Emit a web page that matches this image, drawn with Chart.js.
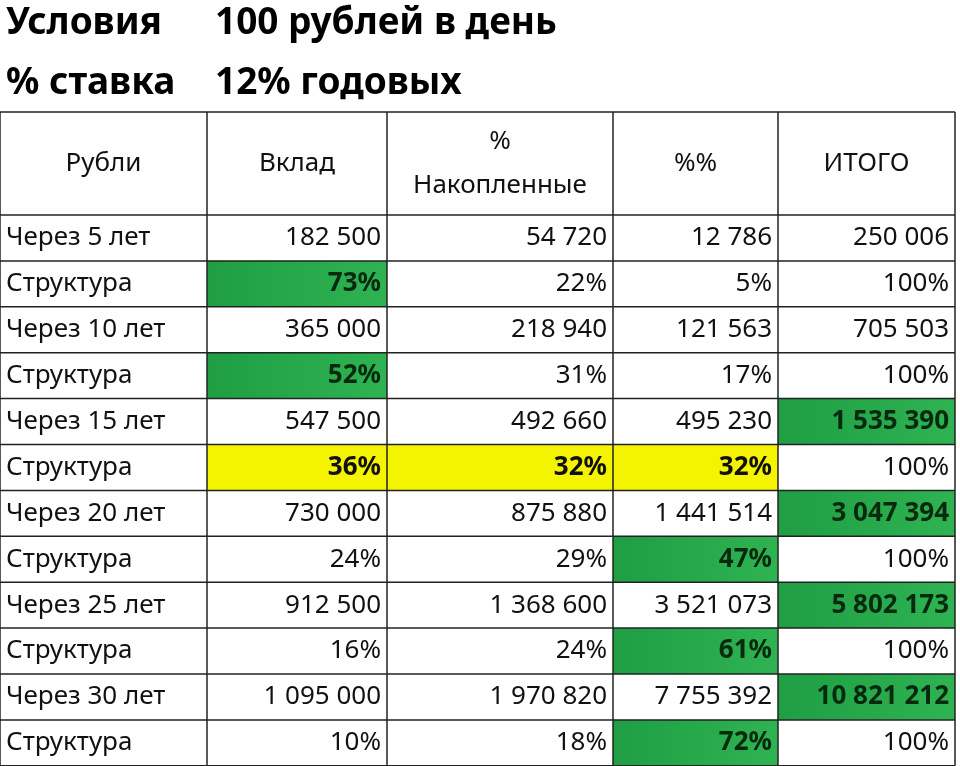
<!DOCTYPE html>
<html>
<head>
<meta charset="utf-8">
<script src="https://cdn.jsdelivr.net/npm/chart.js@4"></script>
<style>
  html, body { margin: 0; padding: 0; background: #fff; }
  #wrap { width: 960px; height: 766px; }
</style>
</head>
<body>
<div id="wrap"><canvas id="c"></canvas></div>
<script>
// Table data
const titleLabels = ["Условия", "% ставка"]
const titleValues = ["100 рублей в день", "12% годовых"]
const headers = ["Рубли", "Вклад", "%\nНакопленные", "%%", "ИТОГО"]
const rowLabels = [
  "Через 5 лет", "Структура", "Через 10 лет", "Структура", "Через 15 лет", "Структура",
  "Через 20 лет", "Структура", "Через 25 лет", "Структура", "Через 30 лет", "Структура"
]
const deposit = ["182 500", "73%", "365 000", "52%", "547 500", "36%", "730 000", "24%", "912 500", "16%", "1 095 000", "10%"]
const accrued = ["54 720", "22%", "218 940", "31%", "492 660", "32%", "875 880", "29%", "1 368 600", "24%", "1 970 820", "18%"]
const interest = ["12 786", "5%", "121 563", "17%", "495 230", "32%", "1 441 514", "47%", "3 521 073", "61%", "7 755 392", "72%"]
const total = ["250 006", "100%", "705 503", "100%", "1 535 390", "100%", "3 047 394", "100%", "5 802 173", "100%", "10 821 212", "100%"]
// highlight: "g" green, "y" yellow, "" none  (per column 1..4)
const hlDeposit = ["", "g", "", "g", "", "y", "", "", "", "", "", ""]
const hlAccrued = ["", "", "", "", "", "y", "", "", "", "", "", ""]
const hlInterest = ["", "", "", "", "", "y", "", "g", "", "g", "", "g"]
const hlTotal = ["", "", "", "", "g", "", "g", "", "g", "", "g", ""]

const colEdges = [0, 207, 387, 613, 778, 955]
const tableTop = 112, headerBottom = 215, rowH = 45.9
const FONT = '"Noto Sans", sans-serif'

const columns = [rowLabels, deposit, accrued, interest, total]
const highlights = [null, hlDeposit, hlAccrued, hlInterest, hlTotal]

const tablePlugin = {
  id: 'table',
  afterDraw(chart) {
    const ctx = chart.ctx
    const xs = chart.scales.x, ys = chart.scales.y
    const X = v => xs.getPixelForValue(v)
    const Y = v => ys.getPixelForValue(v)
    ctx.save()

    // titles
    ctx.fillStyle = '#000'
    ctx.font = 'bold 37px ' + FONT
    ctx.textBaseline = 'middle'
    ctx.textAlign = 'left'
    titleLabels.forEach((t, i) => {
      ctx.fillText(t, X(6), Y(23 + i * 60))
      ctx.fillText(titleValues[i], X(215), Y(23 + i * 60))
    })

    // cell fills
    rowLabels.forEach((_, r) => {
      const y0 = Y(headerBottom + r * rowH), y1 = Y(headerBottom + (r + 1) * rowH)
      for (let c = 1; c < 5; c++) {
        const h = highlights[c][r]
        if (!h) continue
        const x0 = X(colEdges[c]), x1 = X(colEdges[c + 1])
        if (h === 'y') {
          ctx.fillStyle = '#f4f400'
        } else {
          const g = ctx.createLinearGradient(x0, 0, x1, 0)
          g.addColorStop(0, '#1f9e44')
          g.addColorStop(1, '#2fb352')
          ctx.fillStyle = g
        }
        ctx.fillRect(x0, y0, x1 - x0, y1 - y0)
      }
    })

    // grid
    ctx.strokeStyle = '#222'
    ctx.lineWidth = 1.5
    const bottom = headerBottom + rowLabels.length * rowH
    colEdges.forEach(x => {
      ctx.beginPath(); ctx.moveTo(X(x), Y(tableTop)); ctx.lineTo(X(x), Y(bottom)); ctx.stroke()
    })
    const hLines = [tableTop, headerBottom]
    rowLabels.forEach((_, r) => hLines.push(headerBottom + (r + 1) * rowH))
    hLines.forEach(y => {
      ctx.beginPath(); ctx.moveTo(X(colEdges[0]), Y(y)); ctx.lineTo(X(colEdges[5]), Y(y)); ctx.stroke()
    })

    // headers
    ctx.font = '26px ' + FONT
    ctx.fillStyle = '#111'
    ctx.textAlign = 'center'
    headers.forEach((h, c) => {
      const cx = X((colEdges[c] + colEdges[c + 1]) / 2)
      const lines = h.split('\n')
      const mid = (tableTop + headerBottom) / 2
      lines.forEach((l, i) => {
        ctx.fillText(l, cx, Y(mid + (i - (lines.length - 1) / 2) * 44))
      })
    })

    // body
    rowLabels.forEach((_, r) => {
      const cy = Y(headerBottom + (r + 0.5) * rowH)
      columns.forEach((col, c) => {
        const h = highlights[c] ? highlights[c][r] : ''
        ctx.font = (h ? 'bold ' : '') + '26px ' + FONT
        ctx.fillStyle = h === 'g' ? '#072a0f' : '#111'
        if (c === 0) {
          ctx.textAlign = 'left'
          ctx.fillText(col[r], X(colEdges[0] + 6), cy)
        } else {
          ctx.textAlign = 'right'
          ctx.fillText(col[r], X(colEdges[c + 1] - 6), cy)
        }
      })
    })
    ctx.restore()
  }
}

new Chart(document.getElementById('c'), {
  type: 'scatter',
  data: { datasets: [{ data: [] }] },
  options: {
    responsive: true,
    maintainAspectRatio: false,
    animation: false,
    layout: { padding: 0 },
    plugins: { legend: { display: false }, tooltip: { enabled: false } },
    scales: {
      x: { type: 'linear', min: 0, max: 960, display: false },
      y: { type: 'linear', min: 0, max: 766, reverse: true, display: false }
    }
  },
  plugins: [tablePlugin]
})
</script>
</body>
</html>
